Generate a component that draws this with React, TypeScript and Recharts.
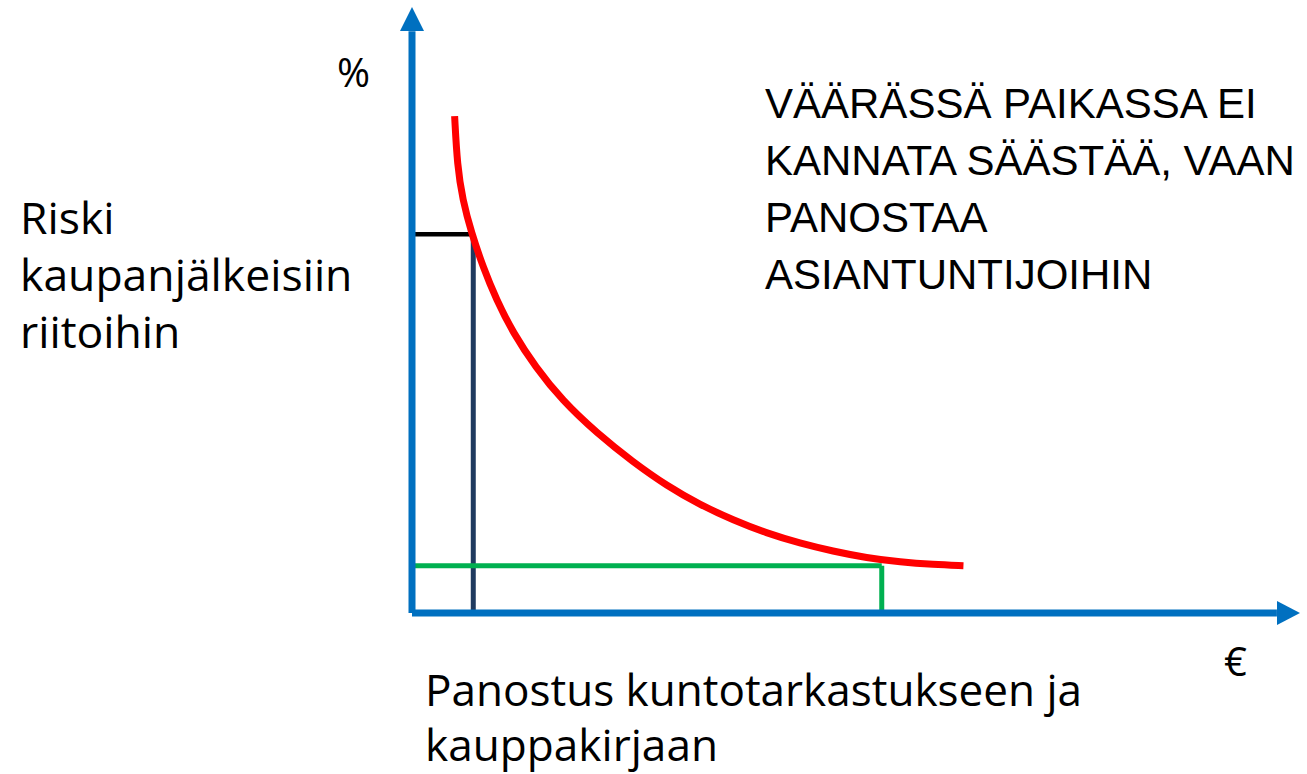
import { LineChart, Line, XAxis, YAxis, ReferenceLine, ReferenceDot } from 'recharts';

// risk curve: investment (x, 0-100) vs risk % (y, 0-100)
const riskCurve = [
  { x: 4.8, y: 82.0 },
  { x: 5.1, y: 73.8 },
  { x: 5.7, y: 68.2 },
  { x: 6.7, y: 62.7 },
  { x: 8.0, y: 57.1 },
  { x: 9.5, y: 51.7 },
  { x: 11.4, y: 46.2 },
  { x: 13.9, y: 40.6 },
  { x: 16.9, y: 35.1 },
  { x: 20.8, y: 29.7 },
  { x: 24.9, y: 24.9 },
  { x: 28.7, y: 21.0 },
  { x: 32.4, y: 17.9 },
  { x: 36.2, y: 15.3 },
  { x: 39.9, y: 13.2 },
  { x: 43.7, y: 11.5 },
  { x: 47.4, y: 10.2 },
  { x: 51.2, y: 9.1 },
  { x: 55.0, y: 8.4 },
  { x: 58.7, y: 8.0 },
  { x: 62.1, y: 7.8 },
];

// the two marked scenarios
const lowInvest = { x: 6.9, y: 62.5 };
const highInvest = { x: 52.9, y: 7.8 };

const axisEnd = { x: 97.4, y: 96.0 };

const leftLabel = ['Riski', 'kaupanjälkeisiin', 'riitoihin'];
const rightLabel = ['VÄÄRÄSSÄ PAIKASSA EI', 'KANNATA SÄÄSTÄÄ, VAAN', 'PANOSTAA', 'ASIANTUNTIJOIHIN'];
const bottomLabel = ['Panostus kuntotarkastukseen ja', 'kauppakirjaan'];

const BLUE = '#0070C0';

const ArrowUp = (props: any) => {
  const { cx, cy } = props;
  return <polygon points={`${cx},${cy} ${cx - 12},${cy + 24} ${cx + 12},${cy + 24}`} fill={BLUE} />;
};

const ArrowRight = (props: any) => {
  const { cx, cy } = props;
  return <polygon points={`${cx},${cy} ${cx - 23},${cy - 12} ${cx - 23},${cy + 12}`} fill={BLUE} />;
};

export default function App() {
  const sans = '"Open Sans", sans-serif';
  return (
    <div style={{ position: 'absolute', left: 0, top: 0, width: 1307, height: 774, background: '#fff' }}>
      <LineChart
        width={1307}
        height={774}
        data={riskCurve}
        margin={{ top: 7, right: 7, bottom: 161, left: 412 }}
      >
        <XAxis dataKey="x" type="number" domain={[0, 100]} hide />
        <YAxis type="number" domain={[0, 100]} hide />
        <ReferenceLine
          segment={[{ x: 0, y: lowInvest.y }, { x: lowInvest.x, y: lowInvest.y }]}
          stroke="#000"
          strokeWidth={4.5}
        />
        <ReferenceLine
          segment={[{ x: lowInvest.x, y: lowInvest.y }, { x: lowInvest.x, y: 0 }]}
          stroke="#1F3A5F"
          strokeWidth={5}
        />
        <ReferenceLine
          segment={[{ x: 0, y: highInvest.y }, { x: highInvest.x, y: highInvest.y }]}
          stroke="#00B050"
          strokeWidth={5}
        />
        <ReferenceLine
          segment={[{ x: highInvest.x, y: highInvest.y }, { x: highInvest.x, y: 0 }]}
          stroke="#00B050"
          strokeWidth={5}
        />
        <Line
          dataKey="y"
          type="basis"
          stroke="#FF0000"
          strokeWidth={7}
          dot={false}
          isAnimationActive={false}
        />
        <ReferenceLine segment={[{ x: 0, y: 0 }, { x: 0, y: axisEnd.y }]} stroke={BLUE} strokeWidth={7} />
        <ReferenceLine segment={[{ x: 0, y: 0 }, { x: axisEnd.x, y: 0 }]} stroke={BLUE} strokeWidth={7} />
        <ReferenceDot x={0} y={100} r={1} ifOverflow="visible" shape={ArrowUp} />
        <ReferenceDot x={100} y={0} r={1} ifOverflow="visible" shape={ArrowRight} />
      </LineChart>
      <svg width={1307} height={774} style={{ position: 'absolute', left: 0, top: 0, pointerEvents: 'none' }}>
        <text x={337} y={87} fontFamily={sans} fontSize={40} fill="#000">%</text>
        <text x={1224} y={676} fontFamily={sans} fontSize={40} fill="#000">€</text>
        {leftLabel.map((t, i) => (
          <text key={t} x={20} y={234 + i * 57} fontFamily={sans} fontSize={44.5} fill="#000">{t}</text>
        ))}
        {rightLabel.map((t, i) => (
          <text key={t} x={765} y={118 + i * 57} fontFamily='"Liberation Sans", Arial, sans-serif' fontSize={42} fill="#000">{t}</text>
        ))}
        {bottomLabel.map((t, i) => (
          <text
            key={t}
            x={425}
            y={706 + i * 55}
            fontFamily={sans}
            fontSize={43}
            fill="#000"
            textLength={i === 0 ? 657 : 293}
            lengthAdjust="spacingAndGlyphs"
          >
            {t}
          </text>
        ))}
      </svg>
    </div>
  );
}
